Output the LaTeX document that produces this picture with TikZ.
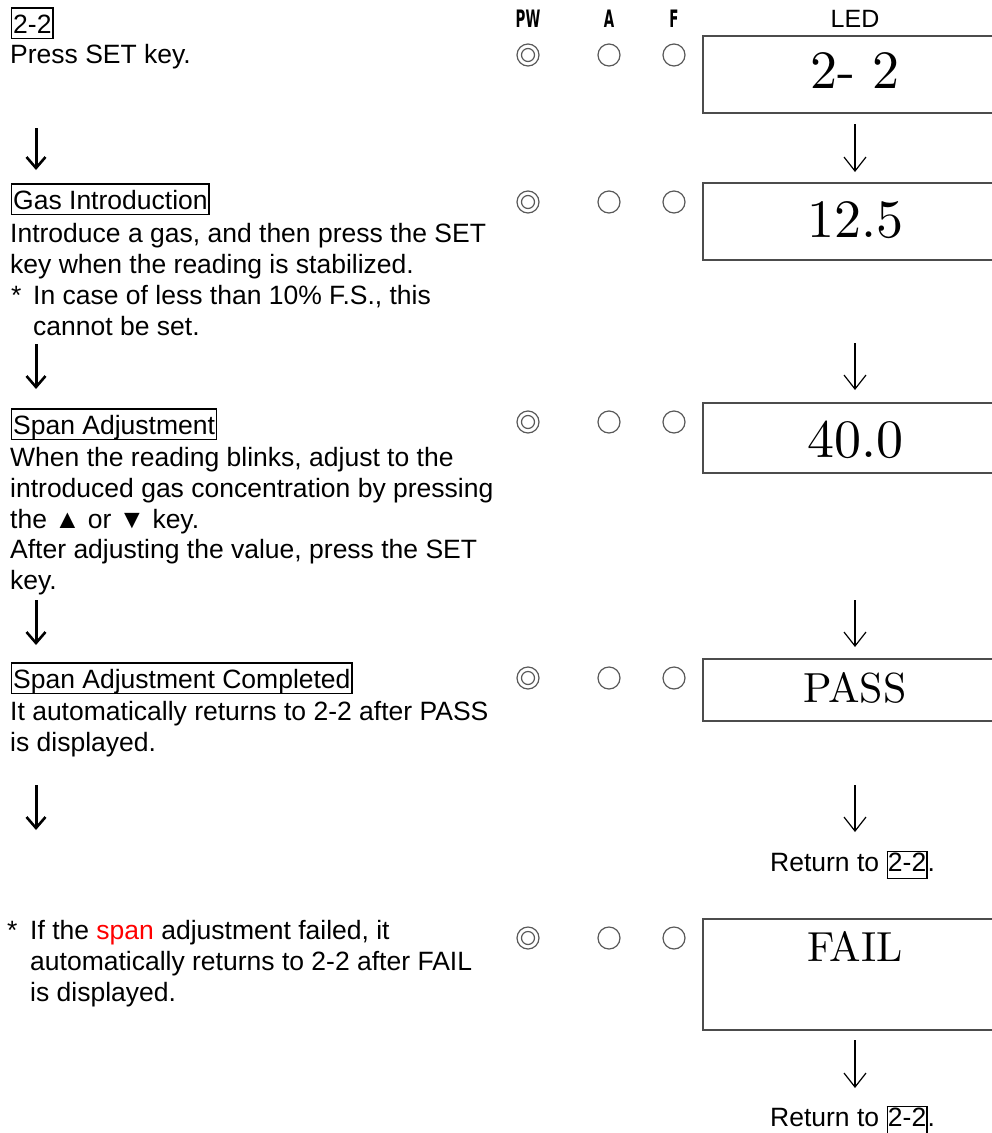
\documentclass[tikz,border=0pt]{standalone}
\usepackage{fontspec}
\newfontfamily\af{Liberation Sans}
\newfontfamily\lmten{lmroman10-regular.otf}
\newfontfamily\cond{DejaVu Sans Condensed}
\usetikzlibrary{arrows.meta}
\tikzset{
  txt/.style={anchor=base west, inner sep=0pt, font=\af\fontsize{26.5}{31}\selectfont},
  ttl/.style={txt, draw, line width=1.4pt, inner xsep=1.5pt, inner ysep=0pt, text height=25pt, text depth=5.5pt},
  lbl/.style={anchor=base, inner sep=0pt, font=\af\fontsize{25}{30}\selectfont},
  hdr/.style={anchor=base, inner sep=0pt, font=\cond\bfseries\fontsize{24}{30}\selectfont},
  ledbox/.style={draw=black!70, line width=1.4pt, rectangle, inner sep=0pt},
  ledtxt/.style={anchor=base, inner sep=0pt, font=\lmten\fontsize{54}{60}\selectfont},
  ledword/.style={anchor=base, inner sep=0pt, font=\lmten\fontsize{42}{48}\selectfont},
  lamp/.style={draw=black!65, line width=1.2pt, circle, minimum size=22pt, inner sep=0pt},
  lampin/.style={draw=black!65, line width=1.2pt, circle, minimum size=13pt, inner sep=0pt},
  thinarrow/.style={line width=1.2pt, -{Straight Barb[length=14pt,width=22pt]}},
  thickarrow/.style={line width=3pt, -{Straight Barb[length=11pt,width=19pt,line width=2.6pt]}},
}
\begin{document}
\begin{tikzpicture}[x=1pt,y=-1pt]
\useasboundingbox (0,0) rectangle (992,1133);
\clip (0,0) rectangle (992,1133);
\fboxsep=0pt \fboxrule=1.4pt
% headers
\node[hdr] (hpw) at (528,27) {\scalebox{0.62}[1]{PW}};
\node[hdr] (ha) at (609,27) {\scalebox{0.62}[1]{A}};
\node[hdr] (hf) at (674,27) {\scalebox{0.62}[1]{F}};
\node[lbl] (hled) at (855,27) {LED};
% lamps
\foreach \r/\y in {1/55,2/202,3/422,4/678,5/938}{
  \node[lamp] (pw\r) at (528,\y) {};
  \node[lampin] (pwi\r) at (528,\y) {};
  \node[lamp] (a\r) at (609,\y) {};
  \node[lamp] (f\r) at (674,\y) {};
}
% LED boxes
\node[ledbox, minimum width=306pt, minimum height=77pt] (led1) at (856,74.5) {};
\node[ledbox, minimum width=306pt, minimum height=77pt] (led2) at (856,221.5) {};
\node[ledbox, minimum width=306pt, minimum height=70pt] (led3) at (856,438) {};
\node[ledbox, minimum width=306pt, minimum height=62pt] (led4) at (856,690) {};
\node[ledbox, minimum width=306pt, minimum height=111pt] (led5) at (856,974.5) {};
\node[ledtxt] (v1) at (855,88) {2- 2};
\node[ledtxt] (v2) at (855,237) {12.5};
\node[ledtxt] (v3) at (855,457) {40.0};
\node[ledword] (v4) at (855,702) {PASS};
\node[ledword] (v5) at (855,961) {FAIL};
% return labels
\node[txt] (ret1) at (770,871) {Return to \fbox{\rule[-6.5pt]{0pt}{25.5pt}2-2}.};
\node[txt] (ret2) at (770,1126) {Return to \fbox{\rule[-6.5pt]{0pt}{25.5pt}2-2}.};
% right arrows
\coordinate (r1s) at (855,124); \coordinate (r1e) at (855,172);
\coordinate (r2s) at (855,343); \coordinate (r2e) at (855,390);
\coordinate (r3s) at (855,600); \coordinate (r3e) at (855,647);
\coordinate (r4s) at (855,785); \coordinate (r4e) at (855,832);
\coordinate (r5s) at (855,1040); \coordinate (r5e) at (855,1088);
\foreach \i in {1,...,5}{\draw[thinarrow] (r\i s) -- (r\i e);}
% left arrows
\coordinate (l1s) at (36,128); \coordinate (l1e) at (36,170);
\coordinate (l2s) at (36,344); \coordinate (l2e) at (36,389);
\coordinate (l3s) at (36,600); \coordinate (l3e) at (36,645);
\coordinate (l4s) at (36,785); \coordinate (l4e) at (36,830);
\foreach \i in {1,...,4}{\draw[thickarrow] (l\i s) -- (l\i e);}
% row 1
\node[ttl] (t1) at (11,33) {2-2};
\node[txt] (p1) at (10,63) {Press SET key.};
% row 2
\node[ttl] (t2) at (11,209) {Gas Introduction};
\node[txt] (p2a) at (10,242) {Introduce a gas, and then press the SET};
\node[txt] (p2b) at (10,273) {key when the reading is stabilized.};
\node[txt] (s2) at (11,304) {*};
\node[txt] (p2c) at (33,304) {In case of less than 10\% F.S., this};
\node[txt] (p2d) at (33,335) {cannot be set.};
% row 3
\node[ttl] (t3) at (11,434) {Span Adjustment};
\node[txt] (p3a) at (10,466) {When the reading blinks, adjust to the};
\node[txt] (p3b) at (10,497) {introduced gas concentration by pressing};
\node[txt] (p3c) at (10,528) {the ▲ or ▼ key.};
\node[txt] (p3d) at (10,558) {After adjusting the value, press the SET};
\node[txt] (p3e) at (10,589) {key.};
% row 4
\node[ttl] (t4) at (11,688) {Span Adjustment Completed};
\node[txt] (p4a) at (10,720) {It automatically returns to 2-2 after PASS};
\node[txt] (p4b) at (10,751) {is displayed.};
% row 5
\node[txt] (s5) at (7,939) {*};
\node[txt] (p5a) at (30,939) {If the \textcolor{red}{span} adjustment failed, it};
\node[txt] (p5b) at (30,970) {automatically returns to 2-2 after FAIL};
\node[txt] (p5c) at (30,1001) {is displayed.};
\end{tikzpicture}
\end{document}
